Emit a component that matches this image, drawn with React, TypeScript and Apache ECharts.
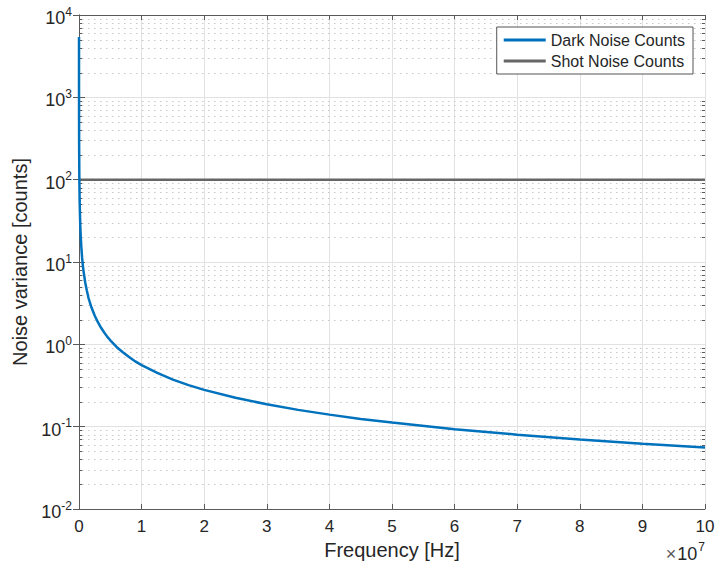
import React, { useEffect, useRef } from "react";
import * as echarts from "echarts";

// Frequency in units of 1e7 Hz
const darkFreq = [0.0001, 0.0005, 0.001, 0.002, 0.005, 0.01, 0.02, 0.03, 0.04, 0.05, 0.06, 0.075, 0.1, 0.125, 0.15, 0.175, 0.2, 0.25, 0.3, 0.35, 0.4, 0.45, 0.5, 0.6, 0.7, 0.8, 0.9, 1, 1.25, 1.5, 1.75, 2, 2.5, 3, 3.5, 4, 4.5, 5, 6, 7, 8, 9, 10];
const darkCounts = [5400, 1100, 560, 280, 112, 56, 28, 18.7, 14, 11.2, 9.3, 7.5, 5.6, 4.5, 3.7, 3.2, 2.8, 2.24, 1.87, 1.6, 1.4, 1.24, 1.12, 0.93, 0.8, 0.7, 0.62, 0.56, 0.45, 0.373, 0.32, 0.28, 0.224, 0.187, 0.16, 0.14, 0.124, 0.112, 0.093, 0.08, 0.07, 0.062, 0.056];
const shotFreq = [0, 10];
const shotCounts = [100, 100];
const decades = [0.01, 0.1, 1, 10, 100, 1000];
const minorMultipliers = [2, 3, 4, 5, 6, 7, 8, 9];
const seriesNames = ["Dark Noise Counts", "Shot Noise Counts"];

const FONT = 'Helvetica, Arial, "Liberation Sans", sans-serif';

export default function App() {
  const ref = useRef<HTMLDivElement>(null);
  useEffect(() => {
    if (!ref.current) return;
    const chart = echarts.init(ref.current, null, { renderer: "svg" });
    const minorVals: number[][] = [];
    decades.forEach((d) => minorMultipliers.forEach((m) => minorVals.push([0, m * d])));
    const axisColor = "#5a5a5a";
    const labelColor = "#262626";
    chart.setOption({
      animation: false,
      backgroundColor: "#ffffff",
      grid: { left: 79, right: 12, top: 15, bottom: 60, containLabel: false, outerBoundsMode: "none" },
      legend: {
        data: seriesNames,
        orient: "vertical",
        right: 24,
        top: 27,
        itemWidth: 42,
        itemHeight: 3,
        itemGap: 5,
        icon: "rect",
        padding: [5, 8, 5, 7],
        backgroundColor: "#ffffff",
        borderColor: "#555555",
        borderWidth: 1,
        borderRadius: 0,
        textStyle: { fontSize: 16, color: labelColor, fontFamily: FONT },
        z: 20,
      },
      xAxis: [
        {
          type: "value",
          min: 0,
          max: 10,
          interval: 1,
          name: "Frequency [Hz]",
          nameLocation: "middle",
          nameGap: 31,
          nameTextStyle: { fontSize: 20, color: labelColor, fontFamily: FONT },
          axisLine: { show: true, lineStyle: { color: axisColor, width: 1 } },
          axisTick: { show: true, inside: true, length: 5, lineStyle: { color: axisColor } },
          axisLabel: { fontSize: 17, color: labelColor, fontFamily: FONT, margin: 9 },
          splitLine: { show: true, lineStyle: { color: "#e2e2e2", width: 1 } },
        },
        {
          type: "value",
          position: "top",
          min: 0,
          max: 10,
          interval: 1,
          axisLine: { show: true, lineStyle: { color: axisColor, width: 1 } },
          axisTick: { show: true, inside: true, length: 5, lineStyle: { color: axisColor } },
          axisLabel: { show: false },
          splitLine: { show: false },
        },
      ],
      yAxis: [
        {
          type: "log",
          logBase: 10,
          min: 0.01,
          max: 10000,
          name: "Noise variance [counts]",
          nameLocation: "middle",
          nameGap: 47,
          nameTextStyle: { fontSize: 20, color: labelColor, fontFamily: FONT },
          axisLine: { show: true, lineStyle: { color: axisColor, width: 1 } },
          axisTick: { show: true, inside: true, length: 6, lineStyle: { color: axisColor } },
          axisLabel: {
            margin: 7,
            formatter: (v: number) => {
              const e = Math.round(Math.log10(v));
              return "{b|10}{s|" + e + "}";
            },
            rich: {
              b: { fontSize: 18, color: labelColor, fontFamily: FONT, padding: [6, 0, 0, 0] },
              s: { fontSize: 12, color: labelColor, fontFamily: FONT, padding: [0, 0, 7, 0] },
            },
          },
          splitLine: { show: true, lineStyle: { color: "#e2e2e2", width: 1 } },
        },
        {
          type: "log",
          logBase: 10,
          min: 0.01,
          max: 10000,
          position: "right",
          axisLine: { show: true, lineStyle: { color: axisColor, width: 1 } },
          axisTick: { show: true, inside: true, length: 6, lineStyle: { color: axisColor } },
          axisLabel: { show: false },
          splitLine: { show: false },
        },
      ],
      series: [
        {
          type: "custom",
          name: "minor",
          silent: true,
          xAxisIndex: 0,
          yAxisIndex: 0,
          z: 1,
          data: minorVals,
          encode: { x: 0, y: 1 },
          renderItem: (params: any, api: any) => {
            const cs = params.coordSys;
            const y = Math.round(api.coord([0, api.value(1)])[1]) + 0.5;
            return {
              type: "group",
              children: [
                { type: "line", shape: { x1: cs.x + 3, y1: y, x2: cs.x + cs.width, y2: y }, style: { stroke: "#c8c8c8", lineWidth: 1.2, lineDash: [1.5, 4.5] } },
                { type: "line", shape: { x1: cs.x, y1: y, x2: cs.x + 3, y2: y }, style: { stroke: axisColor, lineWidth: 1 } },
                { type: "line", shape: { x1: cs.x + cs.width - 3, y1: y, x2: cs.x + cs.width, y2: y }, style: { stroke: axisColor, lineWidth: 1 } },
              ],
            };
          },
        },
        {
          type: "line",
          name: seriesNames[0],
          data: darkFreq.map((f, i) => [f, darkCounts[i]]),
          showSymbol: false,
          symbol: "none",
          lineStyle: { color: "#0072BD", width: 2.5 },
          itemStyle: { color: "#0072BD" },
          z: 5,
        },
        {
          type: "line",
          name: seriesNames[1],
          data: shotFreq.map((f, i) => [f, shotCounts[i]]),
          showSymbol: false,
          symbol: "none",
          lineStyle: { color: "#666666", width: 2.5 },
          itemStyle: { color: "#666666" },
          z: 4,
        },
      ],
      graphic: [
        {
          type: "text",
          right: 12,
          top: 541,
          style: {
            text: "{x|×}{b|10}{s|7}",
            rich: {
              x: { fontSize: 18, fill: "#555", fontFamily: FONT, padding: [7, 1, 0, 0] },
              b: { fontSize: 18, fill: labelColor, fontFamily: FONT, padding: [7, 0, 0, 0] },
              s: { fontSize: 12, fill: labelColor, fontFamily: FONT, padding: [0, 0, 7, 1] },
            },
          },
        },
      ],
    });
    return () => chart.dispose();
  }, []);
  return <div ref={ref} style={{ position: "fixed", left: 0, top: 0, width: 717, height: 569 }} />;
}
